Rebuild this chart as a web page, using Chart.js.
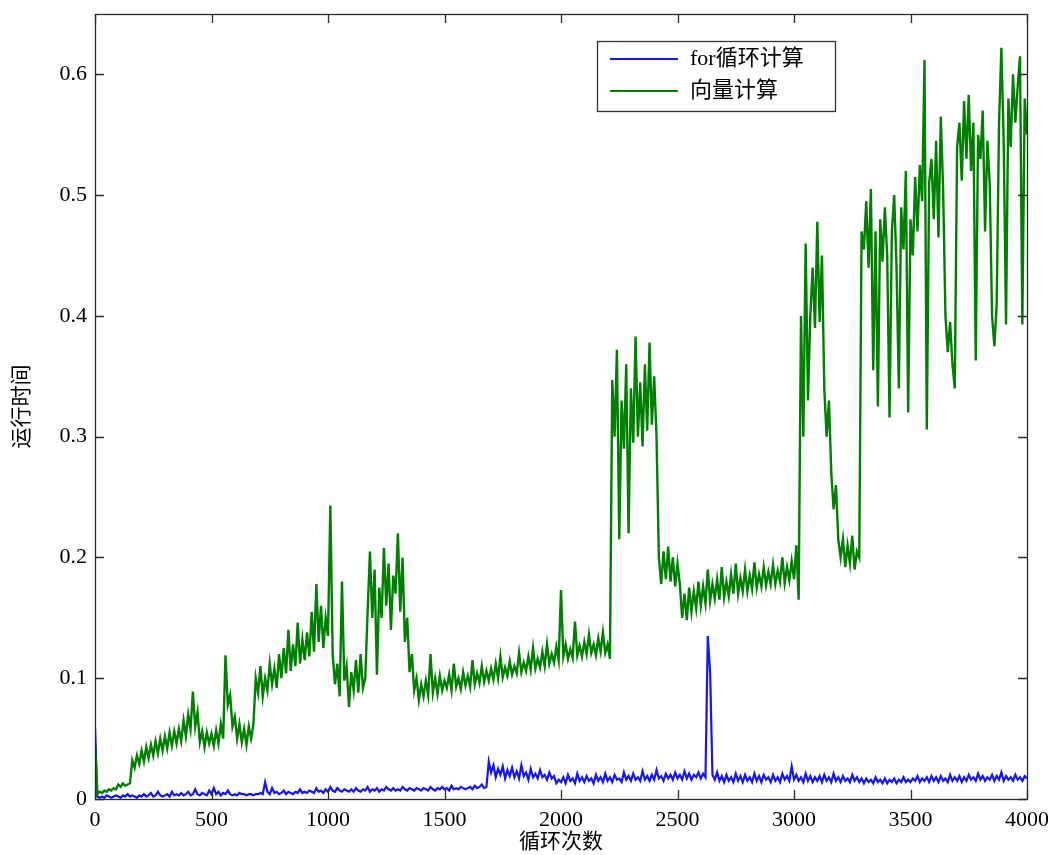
<!DOCTYPE html>
<html lang="zh">
<head>
<meta charset="UTF-8">
<title>运行时间对比</title>
<script src="https://cdn.jsdelivr.net/npm/chart.js"></script>
<style>
  html, body { margin: 0; padding: 0; background: #fff; }
</style>
</head>
<body>
<canvas id="timeChart" width="1048" height="855"></canvas>
<script>
// x: loop count, sampled every 10 iterations (0 .. 4000)
const xStep = 10;

// for循环计算 (blue)
const forLoopTime = [
  0.060, 0.002, 0.001, 0.002, 0.001, 0.003, 0.002, 0.001, 0.002, 0.003,
  0.002, 0.001, 0.003, 0.002, 0.004, 0.002, 0.003, 0.002, 0.001, 0.003,
  0.002, 0.004, 0.002, 0.003, 0.005, 0.002, 0.003, 0.006, 0.003, 0.002,
  0.003, 0.004, 0.002, 0.006, 0.003, 0.004, 0.003, 0.005, 0.003, 0.004,
  0.006, 0.003, 0.004, 0.008, 0.004, 0.003, 0.005, 0.004, 0.003, 0.007,
  0.004, 0.009, 0.004, 0.006, 0.003, 0.005, 0.004, 0.007, 0.004, 0.003,
  0.004, 0.003, 0.005, 0.004, 0.004, 0.003, 0.004, 0.004, 0.003, 0.004,
  0.004, 0.005, 0.004, 0.014, 0.006, 0.004, 0.009, 0.005, 0.006, 0.004,
  0.005, 0.007, 0.004, 0.006, 0.005, 0.004, 0.006, 0.005, 0.008, 0.005,
  0.006, 0.005, 0.007, 0.006, 0.005, 0.009, 0.006, 0.007, 0.005, 0.008,
  0.006, 0.010, 0.007, 0.006, 0.009, 0.007, 0.006, 0.008, 0.007, 0.006,
  0.008, 0.006, 0.009, 0.007, 0.006, 0.008, 0.007, 0.010, 0.006, 0.008,
  0.007, 0.009, 0.006, 0.008, 0.007, 0.010, 0.008, 0.007, 0.009, 0.007,
  0.008, 0.007, 0.010, 0.008, 0.007, 0.009, 0.008, 0.007, 0.009, 0.008,
  0.007, 0.009, 0.008, 0.007, 0.010, 0.008, 0.007, 0.009, 0.008, 0.010,
  0.008, 0.009, 0.007, 0.011, 0.008, 0.009, 0.008, 0.010, 0.009, 0.008,
  0.009, 0.010, 0.008, 0.011, 0.009, 0.010, 0.012, 0.009, 0.010, 0.031,
  0.022, 0.028, 0.018, 0.025, 0.020, 0.027, 0.017, 0.024, 0.019, 0.026,
  0.018, 0.023, 0.017, 0.028, 0.019, 0.022, 0.016, 0.025, 0.018, 0.021,
  0.017, 0.024, 0.018, 0.020, 0.016, 0.022, 0.017, 0.019, 0.013, 0.016,
  0.014, 0.018, 0.013, 0.020, 0.015, 0.017, 0.013, 0.021, 0.015, 0.018,
  0.014, 0.019, 0.015, 0.017, 0.013, 0.020, 0.015, 0.018, 0.014, 0.021,
  0.015, 0.018, 0.014, 0.020, 0.016, 0.017, 0.014, 0.022, 0.016, 0.019,
  0.015, 0.021, 0.016, 0.018, 0.015, 0.023, 0.016, 0.019, 0.015, 0.020,
  0.016, 0.024, 0.017, 0.019, 0.015, 0.021, 0.017, 0.020, 0.016, 0.022,
  0.017, 0.020, 0.016, 0.023, 0.017, 0.021, 0.016, 0.020, 0.018, 0.022,
  0.017, 0.021, 0.018, 0.135, 0.105, 0.020, 0.016, 0.022, 0.015, 0.019,
  0.014, 0.020, 0.015, 0.018, 0.014, 0.021, 0.015, 0.019, 0.014, 0.020,
  0.015, 0.018, 0.014, 0.021, 0.015, 0.019, 0.014, 0.020, 0.016, 0.018,
  0.014, 0.020, 0.015, 0.018, 0.014, 0.021, 0.016, 0.019, 0.015, 0.027,
  0.016, 0.020, 0.015, 0.018, 0.014, 0.021, 0.015, 0.019, 0.014, 0.018,
  0.015, 0.019, 0.014, 0.020, 0.015, 0.018, 0.014, 0.021, 0.015, 0.018,
  0.014, 0.019, 0.015, 0.017, 0.014, 0.020, 0.015, 0.018, 0.014, 0.017,
  0.013, 0.017, 0.014, 0.016, 0.013, 0.018, 0.014, 0.016, 0.013, 0.017,
  0.013, 0.016, 0.014, 0.017, 0.013, 0.016, 0.014, 0.018, 0.014, 0.016,
  0.014, 0.017, 0.015, 0.019, 0.014, 0.017, 0.015, 0.018, 0.014, 0.019,
  0.015, 0.018, 0.014, 0.019, 0.015, 0.017, 0.014, 0.020, 0.015, 0.018,
  0.015, 0.019, 0.014, 0.018, 0.015, 0.020, 0.016, 0.018, 0.015, 0.021,
  0.016, 0.019, 0.015, 0.018, 0.016, 0.020, 0.015, 0.019, 0.016, 0.022,
  0.015, 0.019, 0.016, 0.018, 0.015, 0.020, 0.016, 0.018, 0.015, 0.019,
  0.017
];

// 向量计算 (green)
const vectorTime = [
  0.045, 0.004, 0.006, 0.005, 0.007, 0.006, 0.008, 0.007, 0.009, 0.008,
  0.012, 0.010, 0.013, 0.011, 0.012, 0.013, 0.032, 0.026, 0.036, 0.029,
  0.040, 0.031, 0.043, 0.034, 0.045, 0.036, 0.048, 0.038, 0.050, 0.040,
  0.052, 0.042, 0.055, 0.044, 0.056, 0.046, 0.058, 0.048, 0.065, 0.052,
  0.070, 0.058, 0.089, 0.060, 0.072, 0.047, 0.056, 0.043, 0.055, 0.046,
  0.054, 0.044, 0.057, 0.046, 0.062, 0.050, 0.119, 0.078, 0.086, 0.060,
  0.068, 0.050, 0.062, 0.047, 0.058, 0.045, 0.060, 0.050, 0.062, 0.100,
  0.088, 0.110, 0.085, 0.100, 0.090, 0.112, 0.095, 0.108, 0.092, 0.120,
  0.100, 0.125, 0.104, 0.140, 0.106, 0.128, 0.110, 0.146, 0.112, 0.132,
  0.115, 0.138, 0.118, 0.155, 0.122, 0.178, 0.130, 0.160, 0.125, 0.150,
  0.135, 0.243, 0.120, 0.095, 0.112, 0.085, 0.180, 0.098, 0.110, 0.076,
  0.105, 0.090, 0.115, 0.088, 0.120, 0.092, 0.100, 0.155, 0.205, 0.150,
  0.190, 0.103, 0.175, 0.150, 0.208, 0.160, 0.195, 0.140, 0.185, 0.170,
  0.220, 0.155, 0.200, 0.130, 0.150, 0.105, 0.120, 0.090, 0.100, 0.082,
  0.095, 0.085, 0.098, 0.086, 0.120, 0.088, 0.100, 0.087, 0.102, 0.090,
  0.098, 0.092, 0.103, 0.090, 0.112, 0.093, 0.100, 0.091, 0.105, 0.094,
  0.102, 0.093, 0.115, 0.095, 0.104, 0.096, 0.110, 0.097, 0.106, 0.098,
  0.108, 0.099, 0.112, 0.100, 0.118, 0.101, 0.109, 0.102, 0.114, 0.103,
  0.110, 0.104, 0.121, 0.105, 0.113, 0.106, 0.118, 0.107, 0.125, 0.108,
  0.116, 0.109, 0.122, 0.110, 0.128, 0.112, 0.120, 0.113, 0.126, 0.115,
  0.173, 0.118, 0.128, 0.116, 0.124, 0.117, 0.147, 0.119, 0.127, 0.118,
  0.130, 0.120, 0.136, 0.121, 0.128, 0.119, 0.133, 0.122, 0.138, 0.121,
  0.128, 0.116, 0.347, 0.300, 0.372, 0.215, 0.330, 0.290, 0.360, 0.220,
  0.340, 0.295, 0.383, 0.300, 0.345, 0.292, 0.360, 0.305, 0.378, 0.310,
  0.350, 0.300, 0.200, 0.178, 0.205, 0.182, 0.209, 0.180, 0.200, 0.176,
  0.195, 0.178, 0.150, 0.170, 0.148, 0.175, 0.155, 0.172, 0.158, 0.180,
  0.160, 0.176, 0.162, 0.190, 0.164, 0.178, 0.166, 0.182, 0.165, 0.192,
  0.167, 0.180, 0.168, 0.186, 0.170, 0.195, 0.170, 0.183, 0.172, 0.190,
  0.172, 0.185, 0.174, 0.196, 0.175, 0.186, 0.176, 0.192, 0.177, 0.188,
  0.178, 0.194, 0.178, 0.189, 0.180, 0.200, 0.179, 0.192, 0.181, 0.197,
  0.182, 0.210, 0.165, 0.400, 0.300, 0.460, 0.330, 0.400, 0.440, 0.390,
  0.478, 0.395, 0.450, 0.340, 0.300, 0.330, 0.270, 0.240, 0.260, 0.215,
  0.200, 0.215, 0.192, 0.210, 0.195, 0.218, 0.190, 0.205, 0.200, 0.470,
  0.455, 0.495, 0.440, 0.505, 0.355, 0.470, 0.325, 0.480, 0.445, 0.490,
  0.450, 0.316, 0.470, 0.500, 0.440, 0.340, 0.490, 0.455, 0.520, 0.320,
  0.480, 0.450, 0.515, 0.470, 0.525, 0.495, 0.612, 0.306, 0.510, 0.530,
  0.480, 0.545, 0.465, 0.565, 0.505, 0.400, 0.370, 0.395, 0.360, 0.340,
  0.540, 0.560, 0.512, 0.578, 0.530, 0.583, 0.520, 0.560, 0.363, 0.550,
  0.530, 0.570, 0.470, 0.545, 0.510, 0.400, 0.375, 0.410, 0.560, 0.622,
  0.545, 0.393, 0.580, 0.540, 0.600, 0.560, 0.590, 0.615, 0.393, 0.580,
  0.550
];

const seriesNames = ['for循环计算', '向量计算'];
const xTitle = '循环次数';
const yTitle = '运行时间';
const xMax = 4000, xTickStep = 500;
const yMax = 0.65, yTickStep = 0.1;

const toPoints = arr => arr.map((v, i) => ({ x: i * xStep, y: v }));

const FONT = '"Liberation Serif", "Noto Sans CJK SC", serif';
Chart.defaults.font.family = FONT;
Chart.defaults.color = '#000';

const TICK_LEN = 9;

// MATLAB-like box with inward ticks on all four sides, plus legend box
const boxPlugin = {
  id: 'matlabBox',
  afterDraw(chart) {
    const { ctx, chartArea: a, scales: { x, y } } = chart;
    ctx.save();
    ctx.strokeStyle = '#2b2b2b';
    ctx.lineWidth = 1.3;
    ctx.strokeRect(a.left + 0.5, a.top + 0.5, a.right - a.left, a.bottom - a.top);

    ctx.beginPath();
    x.ticks.forEach(t => {
      const px = Math.round(x.getPixelForValue(t.value)) + 0.5;
      ctx.moveTo(px, a.bottom); ctx.lineTo(px, a.bottom - TICK_LEN);
      ctx.moveTo(px, a.top); ctx.lineTo(px, a.top + TICK_LEN);
    });
    y.ticks.forEach(t => {
      const py = Math.round(y.getPixelForValue(t.value)) + 0.5;
      ctx.moveTo(a.left, py); ctx.lineTo(a.left + TICK_LEN, py);
      ctx.moveTo(a.right, py); ctx.lineTo(a.right - TICK_LEN, py);
    });
    ctx.stroke();

    // legend
    const lx = a.right - 430, ly = a.top + 27, lw = 238, lh = 70;
    ctx.fillStyle = '#fff';
    ctx.fillRect(lx, ly, lw, lh);
    ctx.strokeStyle = '#333';
    ctx.lineWidth = 1.3;
    ctx.strokeRect(lx + 0.5, ly + 0.5, lw, lh);
    ctx.font = '22px ' + FONT;
    ctx.textBaseline = 'middle';
    ctx.fillStyle = '#000';
    chart.data.datasets.forEach((ds, i) => {
      const cy = ly + 18 + i * 32;
      ctx.strokeStyle = ds.borderColor;
      ctx.lineWidth = 2;
      ctx.beginPath();
      ctx.moveTo(lx + 13, cy); ctx.lineTo(lx + 81, cy);
      ctx.stroke();
      ctx.fillText(ds.label, lx + 93, cy);
    });
    ctx.restore();
  }
};

new Chart(document.getElementById('timeChart'), {
  type: 'line',
  data: {
    datasets: [
      {
        label: seriesNames[0],
        data: toPoints(forLoopTime),
        borderColor: 'rgb(20, 20, 255)',
        borderWidth: 2.2,
        pointRadius: 0,
        tension: 0,
        order: 1
      },
      {
        label: seriesNames[1],
        data: toPoints(vectorTime),
        borderColor: 'rgb(0, 128, 0)',
        borderWidth: 2.4,
        pointRadius: 0,
        tension: 0,
        order: 0
      }
    ]
  },
  options: {
    responsive: false,
    animation: false,
    layout: { padding: { top: 14, right: 21, left: 0, bottom: 0 } },
    plugins: {
      legend: { display: false },
      tooltip: { enabled: false }
    },
    scales: {
      x: {
        type: 'linear',
        min: 0,
        max: xMax,
        grid: { display: false, drawTicks: false },
        border: { display: false },
        ticks: {
          stepSize: xTickStep,
          padding: 8,
          maxRotation: 0,
          font: { size: 22 },
          callback: v => String(v)
        },
        title: { display: true, text: xTitle, font: { size: 21 }, padding: { top: 0, bottom: 0 } },
        afterFit(s) { s.height = 56; s.paddingLeft = 0; s.paddingRight = 0; }
      },
      y: {
        min: 0,
        max: yMax,
        grid: { display: false, drawTicks: false },
        border: { display: false },
        ticks: {
          stepSize: yTickStep,
          padding: 8,
          font: { size: 22 },
          callback: v => String(Math.round(v * 10) / 10)
        },
        afterBuildTicks(s) {
          s.ticks = s.ticks.filter(t => Math.abs(t.value * 10 - Math.round(t.value * 10)) < 1e-6);
        },
        title: { display: true, text: yTitle, font: { size: 21 }, padding: { top: 10, bottom: 0 } },
        afterFit(s) { s.width = 95; s.paddingTop = 0; s.paddingBottom = 0; }
      }
    }
  },
  plugins: [boxPlugin]
});
</script>
</body>
</html>
